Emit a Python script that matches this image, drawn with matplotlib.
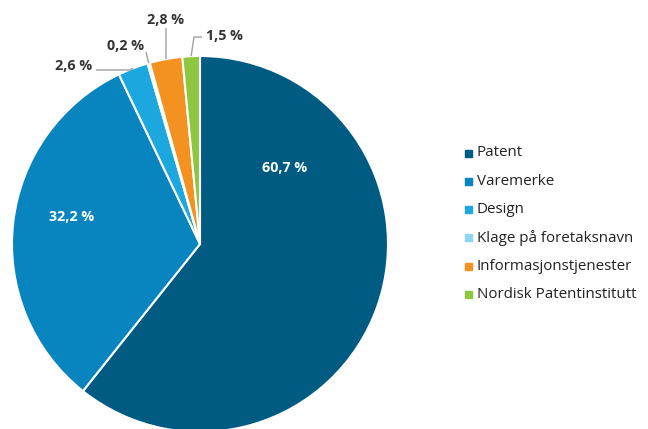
import numpy as np
import matplotlib
matplotlib.use("Agg")
import matplotlib.pyplot as plt
from matplotlib.patches import Rectangle

categories = ["Patent", "Varemerke", "Design", "Klage på foretaksnavn",
              "Informasjonstjenester", "Nordisk Patentinstitutt"]
values = [60.7, 32.2, 2.6, 0.2, 2.8, 1.5]
labels = ["60,7 %", "32,2 %", "2,6 %", "0,2 %", "2,8 %", "1,5 %"]
colors = ["#005B82", "#0884BF", "#1CA7DF", "#8FD4F3", "#F39221", "#8DC63F"]

plt.rcParams['font.family'] = ['Open Sans', 'DejaVu Sans']

W, H = 648, 429
fig = plt.figure(figsize=(W / 100, H / 100), dpi=100)
ax = fig.add_axes([0, 0, 1, 1])

cx, cy, R = 200, H - 244, 188
wedges, _ = ax.pie(values, colors=colors, startangle=90, counterclock=False,
                   center=(cx, cy), radius=R, frame=True,
                   wedgeprops=dict(edgecolor='white', linewidth=1.5))
ax.set_xlim(0, W)
ax.set_ylim(0, H)
ax.set_aspect('equal')
ax.axis('off')

def mid_angle(w):
    return np.deg2rad((w.theta1 + w.theta2) / 2)

# inside labels
inside_pos = {0: (285, 168), 1: (72, 217)}
for i, (x, y) in inside_pos.items():
    ax.text(x, H - y, labels[i], color='white', fontsize=10.3, fontweight='bold',
            ha='center', va='center')

# outer labels with leader lines (elbow then text), positions in pixels (y from top)
outer = {
    2: dict(elbow=(130, 70), end=(96, 70), text=(74, 66)),
    3: dict(elbow=(146, 52), end=(146, 52), text=(126, 46)),
    4: dict(elbow=(166, 28), end=(166, 28), text=(166, 20)),
    5: dict(elbow=(194, 37), end=(202, 37), text=(224, 36)),
}
lc = '#A0A0A0'
for i, d in outer.items():
    a = mid_angle(wedges[i])
    px, py = cx + R * np.cos(a), cy + R * np.sin(a)
    ex, ey = d['elbow'][0], H - d['elbow'][1]
    nx, ny = d['end'][0], H - d['end'][1]
    ax.plot([px, ex, nx], [py, ey, ny], color=lc, lw=1.0, solid_capstyle='butt')
    ax.text(d['text'][0], H - d['text'][1], labels[i], fontsize=10.3,
            fontweight='bold', color='#333333', ha='center', va='center')

# legend
ly0, dy = 153, 28.3
for k, (c, name) in enumerate(zip(colors, categories)):
    y = H - (ly0 + k * dy)
    ax.add_patch(Rectangle((465, y - 3.5), 7, 7, color=c))
    ax.text(477, y, name, fontsize=10.9, color='#222222', va='center', ha='left')

fig.savefig("out.png", dpi=100)
